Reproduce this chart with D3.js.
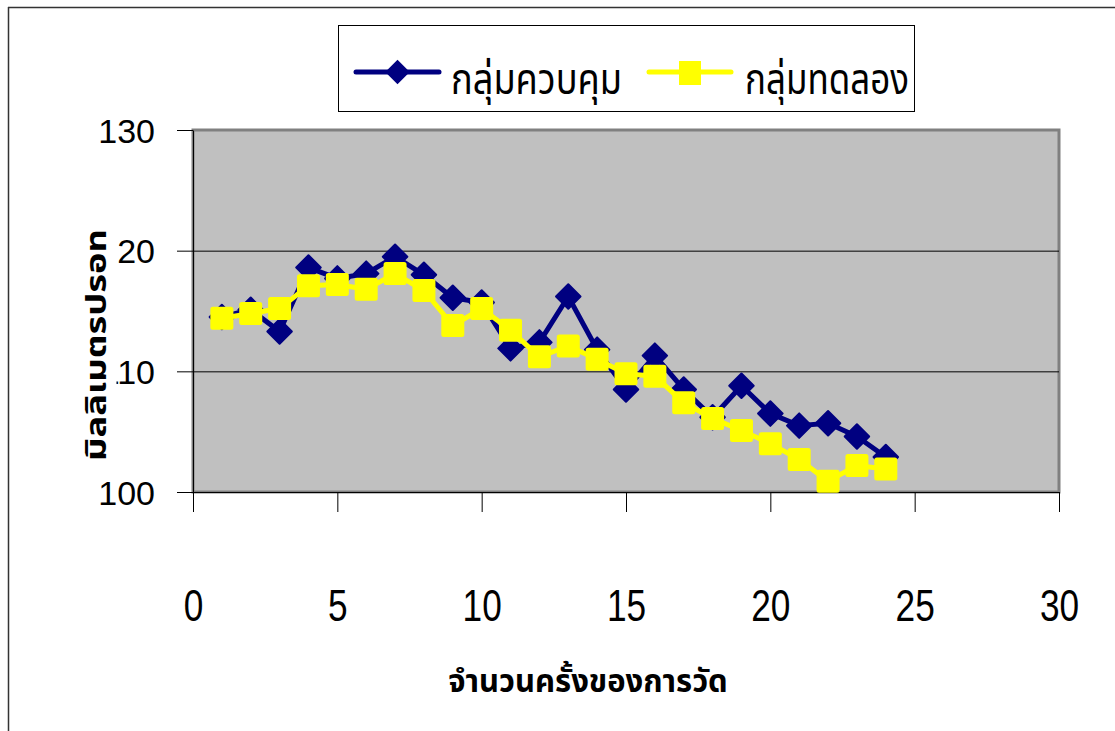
<!DOCTYPE html>
<html><head><meta charset="utf-8">
<script src="https://cdn.jsdelivr.net/npm/d3@7"></script>
<style>body{margin:0;background:#fff}svg{display:block}</style>
</head><body>
<script>
const measurements = d3.range(1, 25);
const controlGroup = [114.5,115.1,113.3,118.6,117.7,118.1,119.5,118.0,116.1,115.7,111.9,112.4,116.2,111.8,108.5,111.3,108.5,106.2,108.8,106.5,105.5,105.7,104.6,102.9];
const experimentGroup = [114.4,114.8,115.2,117.1,117.2,116.8,118.1,116.7,113.8,115.2,113.4,111.2,112.1,111.0,109.8,109.6,107.4,106.1,105.1,104.0,102.7,100.9,102.2,101.9];
const seriesNames = ["กลุ่มควบคุม", "กลุ่มทดลอง"];
const xTicks = [0,5,10,15,20,25,30];
const yTicks = [100,110,120,130];
const xTitle = "จำนวนครั้งของการวัด";
const yTitle = "มิลลิเมตรปรอท";

const W = 1115, H = 731;
const svg = d3.select("body").append("svg").attr("width", W).attr("height", H);

// outer chart border
svg.append("line").attr("x1", 8.5).attr("x2", 8.5).attr("y1", 7).attr("y2", H).attr("stroke", "#333").attr("stroke-width", 1.5);
svg.append("line").attr("x1", 8).attr("x2", W).attr("y1", 7.5).attr("y2", 7.5).attr("stroke", "#333").attr("stroke-width", 1.5);

const x = d3.scaleLinear().domain([0, 30]).range([193, 1059]);
const y = d3.scaleLinear().domain([100, 130]).range([492, 130]);

// plot area
svg.append("rect").attr("x", x(0)).attr("y", y(130)).attr("width", x(30) - x(0)).attr("height", y(100) - y(130))
  .attr("fill", "#C0C0C0").attr("stroke", "#808080").attr("stroke-width", 3);

// gridlines
svg.append("g").selectAll("line").data([110, 120]).join("line")
  .attr("x1", x(0)).attr("x2", x(30)).attr("y1", d => y(d) + 0.5).attr("y2", d => y(d) + 0.5)
  .attr("stroke", "#000").attr("stroke-width", 1);

// axes
const xAxis = svg.append("g").attr("transform", `translate(0,${y(100)})`)
  .call(d3.axisBottom(x).tickValues(xTicks).tickSize(20).tickPadding(78).tickSizeOuter(0));
xAxis.select(".domain").attr("stroke", "#000");
xAxis.selectAll(".tick line").attr("stroke", "#000");
xAxis.selectAll("text").attr("font-family", "'Liberation Sans', Arial, sans-serif")
  .attr("font-size", 44).attr("fill", "#000").attr("transform", "scale(0.8,1)");

const yAxis = svg.append("g").attr("transform", `translate(${x(0)},0)`)
  .call(d3.axisLeft(y).tickValues(yTicks).tickSize(16).tickPadding(22).tickSizeOuter(0));
yAxis.select(".domain").attr("stroke", "#000");
yAxis.selectAll(".tick line").attr("stroke", "#000");
yAxis.selectAll("text").attr("font-family", "'Liberation Sans', Arial, sans-serif")
  .attr("font-size", 34).attr("fill", "#000").attr("dy", "0.36em");

// y title (with white background, as in the reference)
const yt = svg.append("g").attr("transform", "translate(96,345) rotate(-90)");
yt.append("rect").attr("x", -122).attr("y", -12).attr("width", 244).attr("height", 32.5).attr("fill", "#fff");
yt.append("text").text(yTitle).attr("text-anchor", "middle").attr("dy", "0.35em")
  .attr("font-family", "'Noto Sans', 'Noto Sans Thai', 'DejaVu Sans', sans-serif").attr("font-weight", "bold")
  .attr("font-size", 29).attr("fill", "#000")
  .attr("textLength", 232).attr("lengthAdjust", "spacingAndGlyphs");

// x title
svg.append("text").text(xTitle).attr("x", 588).attr("y", 692).attr("text-anchor", "middle")
  .attr("font-family", "'Noto Sans', 'Noto Sans Thai', 'DejaVu Sans', sans-serif").attr("font-weight", "bold")
  .attr("font-size", 31).attr("fill", "#000");

// series
const colors = ["#000080", "#FFFF00"];
const line = d3.line().x((d, i) => x(measurements[i])).y(d => y(d));

// control
svg.append("path").datum(controlGroup).attr("d", line).attr("fill", "none")
  .attr("stroke", colors[0]).attr("stroke-width", 5).attr("stroke-linejoin", "round");
svg.append("g").selectAll("path").data(controlGroup).join("path")
  .attr("transform", (d, i) => `translate(${x(measurements[i])},${y(d)}) rotate(45)`)
  .attr("d", d3.symbol().type(d3.symbolSquare).size(300)).attr("fill", colors[0])
  .attr("stroke", colors[0]).attr("stroke-width", 2).attr("stroke-linejoin", "round");

// experiment
svg.append("path").datum(experimentGroup).attr("d", line).attr("fill", "none")
  .attr("stroke", colors[1]).attr("stroke-width", 5).attr("stroke-linejoin", "round");
svg.append("g").selectAll("rect").data(experimentGroup).join("rect")
  .attr("x", (d, i) => x(measurements[i]) - 10.5).attr("y", d => y(d) - 10.5)
  .attr("width", 21).attr("height", 21).attr("rx", 1.5)
  .attr("fill", colors[1]).attr("stroke", colors[1]).attr("stroke-width", 2);

// legend
const lg = svg.append("g");
lg.append("rect").attr("x", 338.5).attr("y", 25.5).attr("width", 576).attr("height", 86)
  .attr("fill", "#fff").attr("stroke", "#000").attr("stroke-width", 1);
const legendItems = [{x0: 356, x1: 439, tx: 451, tw: 171}, {x0: 649, x1: 731, tx: 745, tw: 164}];
legendItems.forEach((it, k) => {
  const cy = 72;
  lg.append("line").attr("x1", it.x0).attr("x2", it.x1).attr("y1", cy).attr("y2", cy)
    .attr("stroke", colors[k]).attr("stroke-width", 5).attr("stroke-linecap", "round");
  const cx = (it.x0 + it.x1) / 2;
  if (k === 0) {
    lg.append("path").attr("transform", `translate(${cx},${cy}) rotate(45)`)
      .attr("d", d3.symbol().type(d3.symbolSquare).size(300)).attr("fill", colors[0]);
  } else {
    lg.append("rect").attr("x", cx - 11).attr("y", cy - 11).attr("width", 22).attr("height", 24).attr("fill", colors[1]);
  }
  lg.append("text").text(seriesNames[k]).attr("x", it.tx).attr("y", 94)
    .attr("font-family", "'Noto Sans', 'Noto Sans Thai', 'DejaVu Sans', sans-serif")
    .attr("font-size", 42).attr("fill", "#000")
    .attr("textLength", it.tw).attr("lengthAdjust", "spacingAndGlyphs");
});
</script>
</body></html>
